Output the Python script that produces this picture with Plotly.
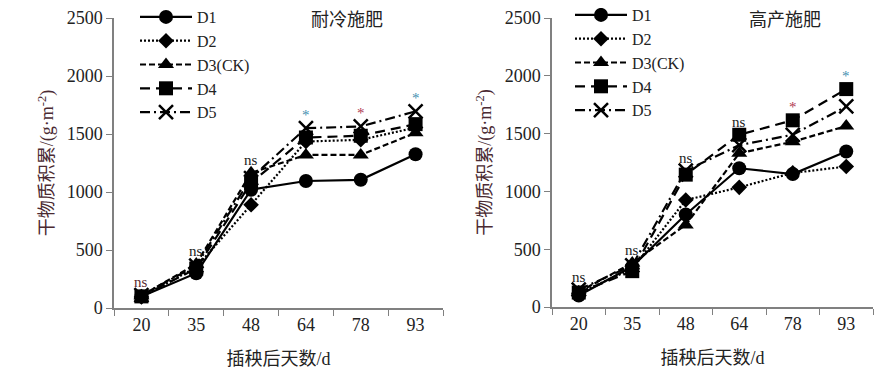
import plotly.graph_objects as go

days = ["20", "35", "48", "64", "78", "93"]
series_names = ["D1", "D2", "D3(CK)", "D4", "D5"]

# 耐冷施肥 (left)
left_D1 = [100, 300, 1020, 1095, 1105, 1325]
left_D2 = [95, 350, 890, 1435, 1450, 1555]
left_D3 = [105, 380, 1165, 1320, 1320, 1510]
left_D4 = [100, 340, 1080, 1470, 1485, 1585]
left_D5 = [110, 365, 1120, 1550, 1565, 1695]
left_sig = ["ns", "ns", "ns", "*", "*", "*"]
left_sig_colors = ["#5a2a30", "#222222", "#222222", "#3f8fb0", "#b03850", "#3f8fb0"]

# 高产施肥 (right)
right_D1 = [100, 350, 800, 1200, 1150, 1345]
right_D2 = [120, 330, 925, 1035, 1160, 1215]
right_D3 = [130, 380, 710, 1330, 1430, 1565]
right_D4 = [125, 310, 1145, 1490, 1615, 1885]
right_D5 = [150, 360, 1180, 1400, 1490, 1735]
right_sig = ["ns", "ns", "ns", "ns", "*", "*"]
right_sig_colors = ["#222222", "#222222", "#222222", "#222222", "#b03850", "#3f8fb0"]

y_ticks = [0, 500, 1000, 1500, 2000, 2500]

styles = [
    dict(dash="solid", symbol="circle", size=14, width=2.2),
    dict(dash="2px,2px", symbol="diamond", size=12, width=2.2),
    dict(dash="6px,3px", symbol="triangle-up", size=14, width=2.2),
    dict(dash="10px,6px", symbol="square", size=14, width=2.2),
    dict(dash="10px,4px,2px,4px", symbol="x-thin", size=14, width=2.2),
]

SERIF = "Liberation Serif, Times New Roman, serif"
CJK = "Liberation Serif, Noto Sans CJK SC, serif"

# page body has an 8px margin; figure occupies the rest of the window
W, H = 881, 369

fig = go.Figure()

panels = [
    ("x", "y", "legend", [left_D1, left_D2, left_D3, left_D4, left_D5], left_sig, left_sig_colors),
    ("x2", "y2", "legend2", [right_D1, right_D2, right_D3, right_D4, right_D5], right_sig, right_sig_colors),
]

for xa, ya, lg, data, sig, sigc in panels:
    for name, vals, st in zip(series_names, data, styles):
        is_x = st["symbol"] == "x-thin"
        fig.add_trace(go.Scatter(
            x=days, y=vals, name=name, xaxis=xa, yaxis=ya, legend=lg,
            mode="lines+markers",
            line=dict(color="black", width=st["width"], dash=st["dash"]),
            marker=dict(symbol=st["symbol"], size=st["size"], color="black",
                        line=dict(color="black", width=2.5 if is_x else 0)),
        ))
    for i, d in enumerate(days):
        top = max(s[i] for s in data)
        fig.add_annotation(
            x=i, y=top, xref=xa, yref=ya, text=sig[i], showarrow=False,
            yanchor="bottom", yshift=3,
            font=dict(family=SERIF, size=15, color=sigc[i]),
        )

axis_common = dict(
    showline=True, linecolor="#808080", linewidth=1.5,
    ticks="outside", tickcolor="#808080", ticklen=6, tickwidth=1.2,
    showgrid=False, zeroline=False, ticklabeloverflow="allow",
    tickfont=dict(family=SERIF, size=18, color="#222222"),
)

xtitle = dict(text="插秧后天数/d", font=dict(family=CJK, size=18, color="#222222"), standoff=18)
ytitle = dict(text="干物质积累/(g·m<sup>-2</sup>)", font=dict(family=CJK, size=18, color="#4a2a32"), standoff=8)

fig.update_layout(
    width=W, height=H,
    margin=dict(l=0, r=0, t=0, b=0, autoexpand=False),
    paper_bgcolor="white", plot_bgcolor="white",
    showlegend=True,
    xaxis=dict(domain=[106 / W, 435 / W], anchor="y", type="category",
               tickson="boundaries", range=[-0.5, 5.5], title=xtitle, **axis_common),
    yaxis=dict(domain=[1 - 300 / H, 1 - 10 / H], anchor="x", range=[0, 2500], tickvals=y_ticks,
               title=ytitle, **axis_common),
    xaxis2=dict(domain=[544 / W, 865 / W], anchor="y2", type="category",
                tickson="boundaries", range=[-0.5, 5.5], title=xtitle, **axis_common),
    yaxis2=dict(domain=[1 - 299 / H, 1 - 10 / H], anchor="x2", range=[0, 2500], tickvals=y_ticks,
                title=ytitle, **axis_common),
    legend=dict(x=127 / W, y=1 + 8 / H, xref="paper", yref="paper",
                xanchor="left", yanchor="top", bgcolor="rgba(0,0,0,0)",
                font=dict(family=SERIF, size=16, color="#222222"),
                itemwidth=52, tracegroupgap=0),
    legend2=dict(x=562 / W, y=1 + 10 / H, xref="paper", yref="paper",
                 xanchor="left", yanchor="top", bgcolor="rgba(0,0,0,0)",
                 font=dict(family=SERIF, size=16, color="#222222"),
                 itemwidth=52, tracegroupgap=0),
)

fig.add_annotation(x=339 / W, y=1 - 12 / H, xref="paper", yref="paper", text="耐冷施肥",
                   xanchor="center", yanchor="middle",
                   showarrow=False, font=dict(family=CJK, size=18, color="#222222"))
fig.add_annotation(x=777 / W, y=1 - 12 / H, xref="paper", yref="paper", text="高产施肥",
                   xanchor="center", yanchor="middle",
                   showarrow=False, font=dict(family=CJK, size=18, color="#222222"))

fig.write_html("out.html")
